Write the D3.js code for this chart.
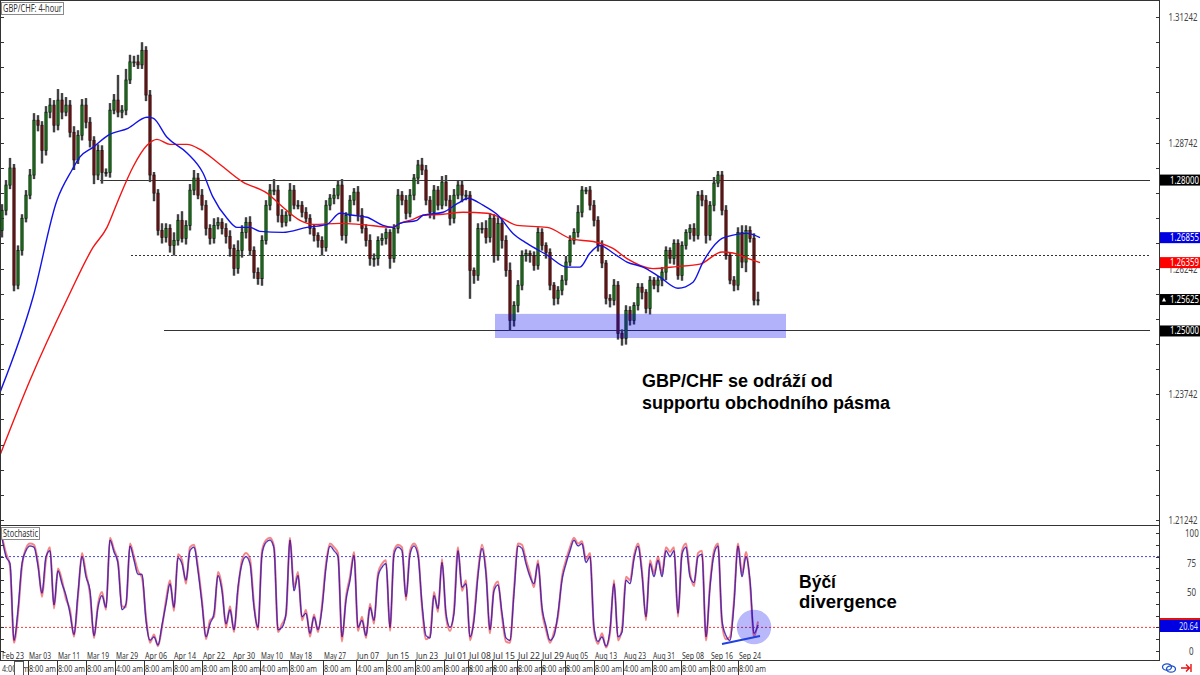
<!DOCTYPE html>
<html><head><meta charset="utf-8">
<script src="https://cdn.jsdelivr.net/npm/d3@7"></script>
<style>html,body{margin:0;padding:0;background:#fff}svg{display:block}text{font-family:"Noto Sans",sans-serif}</style>
</head><body><svg id="c" width="1200" height="675"></svg>
<script>
const closes=[1.2740,1.2790,1.2824,1.2591,1.2660,1.2724,1.2770,1.2810,1.2919,1.2909,
1.2859,1.2935,1.2949,1.2909,1.2959,1.2935,1.2949,1.2895,1.2840,1.2889,
1.2949,1.2915,1.2879,1.2810,1.2859,1.2815,1.2815,1.2939,1.2959,1.2935,
1.2939,1.2999,1.3035,1.3035,1.3029,1.3058,1.2969,1.2810,1.2774,1.2700,
1.2686,1.2704,1.2670,1.2680,1.2720,1.2684,1.2710,1.2780,1.2804,1.2770,
1.2750,1.2704,1.2684,1.2710,1.2716,1.2704,1.2688,1.2664,1.2624,1.2660,
1.2696,1.2716,1.2660,1.2616,1.2604,1.2680,1.2750,1.2780,1.2780,1.2730,
1.2716,1.2730,1.2780,1.2750,1.2750,1.2736,1.2724,1.2704,1.2690,1.2680,
1.2666,1.2750,1.2764,1.2770,1.2790,1.2690,1.2730,1.2760,1.2776,1.2730,
1.2704,1.2680,1.2644,1.2644,1.2680,1.2684,1.2696,1.2644,1.2704,1.2770,
1.2760,1.2734,1.2770,1.2804,1.2830,1.2820,1.2760,1.2736,1.2780,1.2750,
1.2796,1.2760,1.2724,1.2770,1.2790,1.2770,1.2770,1.2620,1.2610,1.2704,
1.2704,1.2686,1.2724,1.2650,1.2714,1.2680,1.2620,1.2521,1.2551,1.2591,
1.2650,1.2654,1.2650,1.2630,1.2696,1.2670,1.2656,1.2591,1.2565,1.2581,
1.2601,1.2637,1.2680,1.2696,1.2736,1.2780,1.2780,1.2750,1.2720,1.2670,
1.2635,1.2565,1.2561,1.2591,1.2495,1.2485,1.2541,1.2521,1.2551,1.2587,
1.2577,1.2545,1.2601,1.2591,1.2601,1.2617,1.2660,1.2644,1.2674,1.2610,
1.2670,1.2696,1.2704,1.2690,1.2770,1.2760,1.2690,1.2750,1.2794,1.2810,
1.2740,1.2650,1.2601,1.2591,1.2696,1.2637,1.2700,1.2684,1.2561,1.2562];
const upperWickPips=[12,10,20,8,10,8,10,12,14,10,8,12,14,10,22,14,16,10,12,10,
12,14,10,8,12,10,8,14,12,50,10,22,14,12,14,16,8,10,6,8,
14,10,8,16,12,18,10,12,16,10,12,10,8,14,10,8,10,12,8,20,
14,10,12,8,10,10,10,12,22,10,12,8,14,10,10,8,10,8,8,6,
8,10,8,14,10,12,6,10,8,12,14,8,12,10,8,10,8,6,8,12,
8,10,12,8,10,14,10,8,10,8,12,14,10,12,8,10,10,8,6,10,
12,16,10,8,12,8,10,16,8,10,10,8,6,8,10,8,6,8,6,8,
10,12,10,8,14,8,6,8,10,8,10,6,8,12,8,8,10,8,6,8,
8,6,8,6,8,10,8,6,8,8,8,6,8,10,8,10,10,8,12,8,
8,10,6,8,10,14,10,8,10,16,10,8,8,6,12,14,18,8,6,10];
const lowerWickPips=[14,10,8,12,8,10,8,8,8,12,26,10,12,14,10,14,8,10,20,8,
10,12,14,18,10,22,8,10,8,10,12,10,8,10,8,8,12,14,16,10,
12,10,14,20,10,8,12,10,10,8,10,14,12,10,8,12,14,16,14,10,
14,12,10,12,12,14,8,10,10,14,10,8,12,8,8,10,8,12,12,14,
16,8,10,12,8,10,16,14,10,12,10,12,14,16,14,10,12,20,8,10,
10,12,8,10,12,10,10,12,14,10,8,12,14,10,8,14,10,56,16,10,
10,12,10,14,10,16,12,20,12,14,10,12,14,10,8,10,12,10,14,12,
10,10,8,8,10,10,8,10,12,12,10,12,14,10,12,14,12,10,8,10,
14,10,12,8,14,12,16,10,12,8,10,8,14,12,8,12,16,10,12,8,
10,8,8,12,10,12,20,8,10,10,10,12,14,18,8,16,8,10,10,58];
const blueBars=[-0.5,7.75,13.75,17.5,19.5,22.75,26.5,31.5,36.25,37.75,41.25,46.25,50.25,52.75,56.25,58.75,62,64.5,70.25,76.25,81.25,84.5,87.75,91.25,95.25,97.75,99.5,103.75,105.25,110.25,114,116.5,120.25,124,127.75,131.25,136.25,141.25,144.5,147,149.5,152.75,156.25,160.25,164.5,169,172.75,175.25,180,181.5,186.25,189.5];
const blueMA=[1.2378,1.2567,1.2760,1.2820,1.2846,1.2865,1.2889,1.2903,1.2925,1.2923,1.2885,1.2854,1.2814,1.2766,1.2724,1.2706,1.2706,1.2698,1.2696,1.2706,1.2712,1.2734,1.2730,1.2726,1.2710,1.2706,1.2714,1.2720,1.2730,1.2736,1.2754,1.2764,1.2750,1.2730,1.2694,1.2674,1.2651,1.2627,1.2627,1.2655,1.2670,1.2655,1.2637,1.2627,1.2607,1.2585,1.2597,1.2637,1.2684,1.2688,1.2694,1.26855];
const redBars=[-0.5,7,16.5,22.75,26.25,28.75,32.75,36.25,38.75,42,46.25,49.5,53.75,60.25,66.25,70.25,74.5,77.75,84.5,89.5,97.75,99.5,102.75,105.25,110.25,115.25,121.25,124.5,128.75,136.25,142.75,147.75,152.75,156.25,162.75,168.75,174.5,180,182.75,186.25,189.5];
const redMA=[1.2253,1.2402,1.2567,1.2666,1.2706,1.2754,1.2826,1.2869,1.2881,1.2871,1.2871,1.2861,1.2836,1.2796,1.2774,1.2746,1.2720,1.2712,1.2714,1.2712,1.2706,1.2714,1.2722,1.2730,1.2732,1.2736,1.2734,1.2726,1.2710,1.2706,1.2682,1.2678,1.2664,1.2644,1.2624,1.2628,1.2633,1.2657,1.2655,1.2645,1.26359];
const stochK=[96,80,74,9,35,74,85,89,88,72,49,80,85,39,68,57,47,32,14,49,80,63,51,13,37,47,37,94,84,74,35,40,89,77,65,65,26,9,12,5,22,40,57,37,79,74,60,85,88,68,40,12,23,32,64,51,23,35,18,54,74,80,74,37,20,82,92,94,87,18,20,32,94,51,64,29,32,15,29,18,36,71,89,85,80,12,43,60,81,20,26,13,37,26,63,71,74,20,82,88,
85,46,82,89,81,40,13,11,47,36,75,32,20,32,85,54,57,12,26,64,87,65,18,51,56,32,11,9,49,89,87,74,63,57,74,37,21,9,13,32,60,74,85,94,89,91,75,80,20,8,12,4,18,57,12,16,60,57,78,89,65,29,74,63,77,63,85,80,85,32,82,88,63,58,80,82,12,54,82,89,26,13,9,40,89,63,80,60,15,22];
const stochD=[97,83,72,7,31,72,87,91,90,75,46,77,88,36,70,60,44,35,12,46,83,66,48,11,40,50,35,96,86,76,38,37,91,80,68,62,29,7,14,4,20,43,60,34,82,77,57,88,90,71,43,10,26,29,67,54,20,38,16,51,77,83,78,40,18,85,94,96,89,16,23,30,96,54,67,26,35,12,31,16,39,74,91,88,83,8,46,63,84,17,29,11,40,23,66,74,77,17,85,90,
88,43,85,91,84,37,10,13,50,33,78,29,17,35,88,51,60,9,29,67,90,68,15,54,59,29,8,7,52,91,90,77,66,54,77,34,18,7,16,29,63,77,88,96,91,93,78,83,17,6,15,3,15,60,9,19,63,60,81,91,68,26,77,66,80,66,88,84,88,29,85,91,66,55,83,85,9,57,85,91,23,10,12,43,91,66,84,57,12,25];
const priceTicks=[1.31242,1.28742,1.26242,1.23742,1.21242];
const stochTicks=[100,75,50,0];
const priceTags=[[1.28,"1.28000","#000"],[1.26855,"1.26855","#0000e0"],[1.26359,"1.26359","#ff0000"],[1.25625,"1.25625","#000"],[1.25,"1.25000","#000"]];
const dateLabels=["Mar 03","Mar 11","Mar 19","Mar 29","Apr 06","Apr 14","Apr 22","Apr 30","May 10","May 18","May 27","Jun 07","Jun 15","Jun 23","Jul 01","Jul 08","Jul 15","Jul 22","Jul 29","Aug 05","Aug 13","Aug 23","Aug 31","Sep 08","Sep 16","Sep 24"];
const timeLabels=["8:00 am","8:00 am","8:00 am","4:00 am","8:00 am","8:00 am","8:00 am","8:00 am","4:00 am","8:00 am","8:00 am","4:00 am","8:00 am","8:00 am","8:00 am","8:00 am","8:00 am","8:00 am","8:00 am","8:00 am","8:00 am","4:00 am","8:00 am","8:00 am","8:00 am","8:00 am"];
const dateBars=[6.5,13.75,21,28.25,35.5,42.75,50,57.5,64.5,71.75,80.25,88.5,96,103.25,110.5,116.5,122.5,128.75,134.75,140.75,148,155.25,162.5,169.75,177,184];

const svg=d3.select("#c");
const R=1159,T=526,B=660;
const x=d3.scaleLinear().domain([0,closes.length-1]).range([2,758]);
const y=d3.scaleLinear().domain([1.21242,1.31242]).range([520,17]);
const s=d3.scaleLinear().domain([0,100]).range([651,533]);
const defs=svg.append("defs");
defs.append("clipPath").attr("id","pm").append("rect").attr("x",1).attr("y",1).attr("width",R-1).attr("height",T-1);
defs.append("clipPath").attr("id","ps").append("rect").attr("x",1).attr("y",T).attr("width",R-1).attr("height",B-T);
const soft=defs.append("filter").attr("id","soft").attr("x","-2%").attr("y","-2%").attr("width","104%").attr("height","104%");
soft.append("feGaussianBlur").attr("stdDeviation",.4);

function put(parent,txt,px,py,w,size,fill){
 const t=parent.append("text").attr("font-size",size).attr("fill",fill).text(txt);
 const sx=w/t.node().getComputedTextLength();
 t.attr("transform",`translate(${px},${py}) scale(${sx},1)`);
 return t;
}

const main=svg.append("g").attr("clip-path","url(#pm)");

[[1.28,100,""],[1.2651,131,"2 2"],[1.25,164,""]].forEach(d=>{
 main.append("line").attr("x1",d[1]).attr("x2",1150).attr("y1",y(d[0])).attr("y2",y(d[0])).attr("stroke","#333").attr("stroke-width",1).attr("stroke-dasharray",d[2]).attr("shape-rendering","crispEdges");
});

const bars=closes.map((c,i)=>{const o=i?closes[i-1]:1.2700;return{i,o,c,h:Math.max(o,c)+upperWickPips[i]/1e4,l:Math.min(o,c)-lowerWickPips[i]/1e4};});
const g=main.append("g").attr("filter","url(#soft)");
g.selectAll("line.h").data(bars).join("line").attr("x1",d=>x(d.i)).attr("x2",d=>x(d.i)).attr("y1",d=>y(d.h)).attr("y2",d=>y(d.l)).attr("stroke","#777").attr("stroke-width",2.6);
g.selectAll("line.w").data(bars).join("line").attr("x1",d=>x(d.i)).attr("x2",d=>x(d.i)).attr("y1",d=>y(d.h)).attr("y2",d=>y(d.l)).attr("stroke","#111").attr("stroke-width",1);
g.selectAll("rect").data(bars).join("rect").attr("x",d=>x(d.i)-1.1).attr("width",2.2).attr("y",d=>y(Math.max(d.o,d.c))).attr("height",d=>Math.max(1,Math.abs(y(d.o)-y(d.c))))
 .attr("fill",d=>d.c>=d.o?"#0b8a12":"#8a0f0f").attr("stroke","#111").attr("stroke-width",.7);

const ma=(bs,vs,col)=>main.append("path").attr("d",d3.line().curve(d3.curveMonotoneX).x(d=>x(d[0])).y(d=>y(d[1]))(bs.map((b,i)=>[b,vs[i]]))).attr("fill","none").attr("stroke",col).attr("stroke-width",1.4);
ma(redBars,redMA,"#f31414");
ma(blueBars,blueMA,"#1212e8");

main.append("rect").attr("x",495).attr("width",291).attr("y",y(1.2534)).attr("height",y(1.2486)-y(1.2534)).attr("fill","#0000f0").attr("fill-opacity",.3);

const st=svg.append("g").attr("clip-path","url(#ps)");
[[80,"#4848d8"],[20,"#e84040"]].forEach(d=>st.append("line").attr("x1",1).attr("x2",R).attr("y1",s(d[0])).attr("y2",s(d[0])).attr("stroke",d[1]).attr("stroke-width",1).attr("stroke-dasharray","2 2"));
const sl=d3.line().curve(d3.curveMonotoneX).x((d,i)=>x(i)).y(d=>s(d));
st.append("path").attr("d",sl(stochD)).attr("fill","none").attr("stroke","#f02020").attr("stroke-opacity",.55).attr("stroke-width",2);
st.append("path").attr("d",sl(stochK)).attr("fill","none").attr("stroke","#4a4af0").attr("stroke-opacity",.6).attr("stroke-width",1.7);
st.append("path").attr("d",sl(stochK)).attr("fill","none").attr("stroke","#4a0a80").attr("stroke-width",.8);
st.append("circle").attr("cx",x(188)).attr("cy",s(20.3)).attr("r",17.3).attr("fill","#0000f0").attr("fill-opacity",.28);
st.append("line").attr("x1",x(180)).attr("y1",s(6)).attr("x2",x(189.5)).attr("y2",s(12.7)).attr("stroke","#2040e0").attr("stroke-width",2);

const frame=svg.append("g").attr("stroke","#333").attr("stroke-width",1).attr("shape-rendering","crispEdges");
[[0,0.5,R+.5,.5],[0,T-.5,R+.5,T-.5],[0,B+.5,R+.5,B+.5],[R+.5,0,R+.5,B+.5],[.5,0,.5,B+.5]].forEach(d=>frame.append("line").attr("x1",d[0]).attr("y1",d[1]).attr("x2",d[2]).attr("y2",d[3]));

const minorP=d3.range(1.21242,1.3149,0.005);
const axCommon=g=>{g.select(".domain").remove();g.selectAll("line").attr("stroke","#333").attr("shape-rendering","crispEdges");};
svg.append("g").attr("transform",`translate(${R},0)`).call(d3.axisLeft(y).tickValues(minorP).tickSize(3).tickFormat("")).call(axCommon);
svg.append("g").attr("transform",`translate(1,0)`).call(d3.axisRight(y).tickValues(minorP).tickSize(3).tickFormat("")).call(axCommon);
svg.append("g").attr("transform",`translate(${R},0)`).call(d3.axisLeft(s).tickValues(d3.range(0,101,10)).tickSize(3).tickFormat("")).call(axCommon);
svg.append("g").attr("transform",`translate(1,0)`).call(d3.axisRight(s).tickValues(d3.range(0,101,10)).tickSize(3).tickFormat("")).call(axCommon);

const pa=svg.append("g").attr("transform",`translate(${R},0)`).call(d3.axisRight(y).tickValues(priceTicks).tickSize(0).tickFormat(d3.format(".5f"))).call(axCommon);
pa.attr("font-family",null);
pa.selectAll("text").attr("fill","#444").attr("font-size",10).each(function(){
 const sx=29/this.getComputedTextLength();
 d3.select(this).attr("x",null).attr("dy",null).attr("transform",`translate(9.5,3.5) scale(${sx},1)`);
});
const sa=svg.append("g").attr("transform",`translate(${R},0)`).call(d3.axisRight(s).tickValues(stochTicks).tickSize(0).tickFormat(d3.format("d"))).call(axCommon);
sa.attr("font-family",null);
sa.selectAll("text").attr("fill","#444").attr("font-size",10).each(function(){
 const n=this.textContent.length;
 d3.select(this).attr("x",null).attr("dy",null).attr("transform",`translate(${30-(n-1)*2},3.5) scale(.8,1)`);
});

priceTags.forEach(d=>{
 const t=svg.append("g").attr("transform",`translate(${R+1},${y(d[0])})`);
 t.append("rect").attr("x",0).attr("y",-5.5).attr("width",40).attr("height",11).attr("fill",d[2]);
 put(t,d[1],10,3.5,29,10,"#fff");
 if(d[1]==="1.25625")t.append("path").attr("d","M2 2 L4 -2 L6 2 Z").attr("fill","#fff");
});

const vt=svg.append("g");
vt.append("rect").attr("x",R+1).attr("y",618).attr("width",40).attr("height",2.5).attr("fill","#e01010");
vt.append("rect").attr("x",R+1).attr("y",620).attr("width",40).attr("height",12).attr("fill","#0000e0");
put(vt,"20.64",1179,629.5,19,10,"#dfe4ff");

const cols=svg.append("g");
const rowDate=659,rowTime=672;
put(cols,"Feb 23",2,rowDate,22,9.5,"#333");
put(cols,"4:00 am",2,rowTime,27,9.5,"#333");
cols.append("rect").attr("x",14).attr("y",B+1).attr("width",9).attr("height",14).attr("fill","#fff").attr("stroke","#555").attr("stroke-width",1).attr("shape-rendering","crispEdges");
dateLabels.forEach((d,i)=>{
 const px=x(dateBars[i]);
 put(cols,d,px+1,rowDate,22,9.5,"#333");
 put(cols,timeLabels[i],px+1,rowTime,27,9.5,"#333");
 cols.append("line").attr("x1",px).attr("x2",px).attr("y1",B).attr("y2",675).attr("stroke","#333").attr("shape-rendering","crispEdges");
});

function box(txt,xx,yy,w,h,tw){
 const b=svg.append("g");
 b.append("rect").attr("x",xx+.5).attr("y",yy+.5).attr("width",w).attr("height",h).attr("fill","#fff").attr("fill-opacity",.85).attr("stroke","#8a8a8a").attr("shape-rendering","crispEdges");
 put(b,txt,xx+2,yy+h-2.5,tw,10,"#333");
}
box("GBP/CHF: 4-hour",1,2,62,12,59);
box("Stochastic",1,527,38,12,35);

const note=(t,xx,yy,w)=>{const n=svg.append("text").attr("font-size",18).attr("font-weight","bold").attr("fill","#000").style("font-family","'Liberation Sans',Arial,sans-serif").text(t);
 n.attr("transform",`translate(${xx},${yy}) scale(${w/n.node().getComputedTextLength()},1)`);};
note("GBP/CHF se odráží od",642,387,191);
note("supportu obchodního pásma",642,409,248);
note("Býčí",799,588,37);
note("divergence",799,608,98);

const ic=svg.append("g").attr("fill","none");
ic.append("ellipse").attr("cx",1167).attr("cy",667).attr("rx",4.5).attr("ry",3.2).attr("stroke","#1a50d0").attr("stroke-width",1.3);
ic.append("ellipse").attr("cx",1171).attr("cy",669).attr("rx",4.5).attr("ry",3.2).attr("stroke","#1a50d0").attr("stroke-width",1.3);
ic.append("path").attr("d","M1181 668 H1189 M1186 664.5 L1189.5 668 L1186 671.5 M1191 664 V672").attr("stroke","#e81010").attr("stroke-width",1.4);
</script></body></html>
